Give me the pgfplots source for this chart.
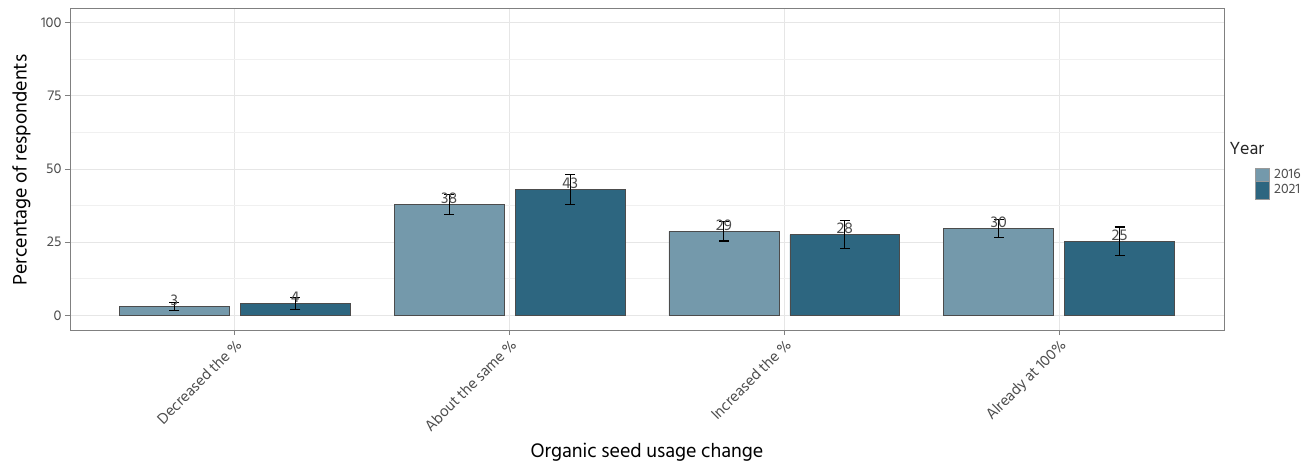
\documentclass[border=0pt]{standalone}
\usepackage{pgfplots}
\pgfplotsset{compat=1.18}
\usepackage{fontspec}
\setmainfont{Hind Siliguri}
\definecolor{c2016}{HTML}{7499AB}
\definecolor{c2021}{HTML}{2D6680}
\definecolor{txtgray}{HTML}{4D4D4D}
\definecolor{gridc}{HTML}{E6E6E6}
\begin{document}
\begin{tikzpicture}
\path[use as bounding box] (0,0) rectangle (1309bp,469bp);
\clip (0,0) rectangle (1309bp,469bp);
\begin{axis}[
  at={(70bp,139bp)}, anchor=south west,
  scale only axis, width=1154bp, height=322bp,
  xmin=-0.6, xmax=3.6, ymin=-5, ymax=105,
  ybar, bar width=0.4,
  xtick={0,1,2,3},
  xticklabels={Decreased the \%, About the same \%, Increased the \%, Already at 100\%},
  ytick={0,25,50,75,100},
  minor ytick={12.5,37.5,62.5,87.5},
  xmajorgrids, ymajorgrids, yminorgrids,
  major grid style={draw=gridc, line width=0.8pt},
  minor grid style={draw=gridc!60, line width=0.6pt},
  axis line style={draw=gray, line width=0.9pt},
  tick align=outside, xtick pos=bottom, ytick pos=left,
  major tick length=5bp, minor tick length=0pt,
  tick style={draw=gray, line width=0.8pt},
  x tick label style={rotate=45, anchor=north east, font=\fontsize{15.5bp}{17bp}\selectfont, text=txtgray, inner sep=2bp},
  y tick label style={font=\fontsize{14.5bp}{16bp}\selectfont, text=txtgray},
  /pgf/number format/assume math mode=true,
  xlabel={Organic seed usage change},
  ylabel={Percentage of respondents},
  xlabel style={at={(axis description cs:0.5,-0.379)}, anchor=center, font=\fontsize{20bp}{22bp}\selectfont},
  ylabel style={at={(axis description cs:-0.042,0.497)}, anchor=center, font=\fontsize{20bp}{22bp}\selectfont},
  nodes near coords,
  nodes near coords style={anchor=center, yshift=6bp, font=\fontsize{16bp}{18bp}\selectfont, text=txtgray},
  point meta=explicit symbolic,
  error bars/y dir=both, error bars/y explicit,
  error bars/error bar style={black, line width=1.1pt},
  error bars/error mark options={rotate=90, mark size=5bp, black, line width=1.1pt},
]
\addplot[fill=c2016, draw=black!70, line width=0.6pt, bar shift=-0.22] table[x=x, y=y, y error=e, meta=lab] {
x y e lab
0 3 1.3 3
1 38 3.4 38
2 28.7 3.3 29
3 29.7 3.1 30
};
\addplot[fill=c2021, draw=black!70, line width=0.6pt, bar shift=0.22] table[x=x, y=y, y error=e, meta=lab] {
x y e lab
0 4 2 4
1 43 5.1 43
2 27.6 4.7 28
3 25.3 4.9 25
};
\end{axis}
\node[anchor=west, font=\fontsize{18bp}{20bp}\selectfont, text=black!85] at (1226bp,321bp) {Year};
\fill[c2016, draw=black!40, line width=0.4pt] (1255bp,288bp) rectangle (1269bp,301bp);
\fill[c2021, draw=black!40, line width=0.4pt] (1255bp,270bp) rectangle (1269bp,288bp);
\node[anchor=west, font=\fontsize{14bp}{16bp}\selectfont, text=txtgray, inner sep=0pt] at (1274bp,295bp) {2016};
\node[anchor=west, font=\fontsize{14bp}{16bp}\selectfont, text=txtgray, inner sep=0pt] at (1274bp,280bp) {2021};
\end{tikzpicture}
\end{document}
